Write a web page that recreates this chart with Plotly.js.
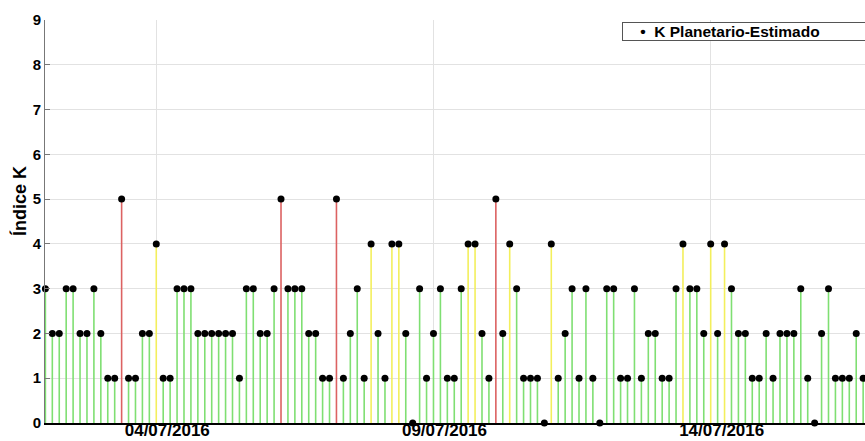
<!DOCTYPE html>
<html>
<head>
<meta charset="utf-8">
<script src="https://cdn.plot.ly/plotly-3.0.1.min.js"></script>
<style>
  html, body { margin: 0; padding: 0; background: #ffffff; }
  #chart { width: 865px; height: 441px; }
</style>
</head>
<body>
<div id="chart"></div>
<script>
// 3-hourly planetary K index estimates, starting 02/07/2016 00:00 UT
const startDate = '2016-07-02T00:00:00';
const stepHours = 3;
const kValues = [
  3,2,2,3,3,2,2,3,2,1,1,5,1,1,2,2,
  4,1,1,3,3,3,2,2,2,2,2,2,1,3,3,2,2,3,5,3,
  3,3,2,2,1,1,5,1,2,3,1,4,2,1,4,4,2,0,3,1,
  2,3,1,1,3,4,4,2,1,5,2,4,3,1,1,1,0,4,1,2,3,
  1,3,1,0,3,3,1,1,3,1,2,2,1,1,3,4,3,3,2,4,
  2,4,3,2,2,1,1,2,1,2,2,2,3,1,0,2,3,1,1,1,2,1
];
const tickDates = ['2016-07-04', '2016-07-09', '2016-07-14'];
const tickLabels = ['04/07/2016', '09/07/2016', '14/07/2016'];
const yTicks = [0,1,2,3,4,5,6,7,8,9];
const seriesName = 'K Planetario-Estimado';
const yTitle = 'Índice K';

function pad(n) { return (n < 10 ? '0' : '') + n; }
function fmt(d) {
  return d.getUTCFullYear() + '-' + pad(d.getUTCMonth() + 1) + '-' + pad(d.getUTCDate()) +
    ' ' + pad(d.getUTCHours()) + ':' + pad(d.getUTCMinutes()) + ':00';
}
const t0 = new Date(startDate + 'Z').getTime();
const times = kValues.map((_, i) => fmt(new Date(t0 + i * stepHours * 3600 * 1000)));

// stems grouped by activity level colour
const groups = [
  { test: v => v <= 3, color: '#7fdf72' },
  { test: v => v === 4, color: '#f3ef5c' },
  { test: v => v >= 5, color: '#dc6262' }
];
const stemTraces = groups.map(g => {
  const xs = [], ys = [];
  kValues.forEach((v, i) => {
    if (g.test(v)) { xs.push(times[i], times[i], null); ys.push(0, v, null); }
  });
  return {
    type: 'scatter', mode: 'lines', x: xs, y: ys,
    line: { color: g.color, width: 1.6 },
    hoverinfo: 'skip', showlegend: false, cliponaxis: false
  };
});

const markerTrace = {
  type: 'scatter', mode: 'markers', name: seriesName,
  x: times, y: kValues,
  marker: { color: '#000000', size: 7 },
  cliponaxis: false, showlegend: false
};

const NB = '\u00a0';
const layout = {
  width: 865, height: 441,
  margin: { l: 45, r: 0, t: 20, b: 18, pad: 0, autoexpand: false },
  paper_bgcolor: '#ffffff', plot_bgcolor: '#ffffff',
  font: { family: 'Liberation Sans, Arial, sans-serif', color: '#000000' },
  showlegend: false,
  annotations: [
    {
      // legend box
      xref: 'paper', yref: 'paper', x: 0.7037, y: 0.995,
      xanchor: 'left', yanchor: 'top',
      text: NB + NB + NB + NB + '•' + NB + NB + seriesName,
      align: 'left', width: 250, showarrow: false,
      bgcolor: '#ffffff', bordercolor: '#555555', borderwidth: 1, borderpad: 0,
      font: { size: 15.5, weight: 'bold', color: '#000000' }
    },
    {
      // y-axis title
      xref: 'paper', yref: 'paper', x: -0.0305, y: 0.551,
      xanchor: 'center', yanchor: 'middle', textangle: -90,
      text: yTitle, showarrow: false,
      font: { size: 18, weight: 'bold', color: '#000000' }
    }
  ],
  xaxis: {
    type: 'date',
    range: ['2016-07-01 23:50:00', '2016-07-16 18:48:00'],
    tickvals: tickDates, ticktext: tickLabels,
    showgrid: true, gridcolor: '#e2e2e2', gridwidth: 1,
    showline: true, linecolor: '#000000', linewidth: 2,
    ticks: '', zeroline: false,
    tickfont: { size: 17, weight: 'bold' },
    ticklabelshift: 11, ticklabelstandoff: -9
  },
  yaxis: {
    range: [0, 9], tickvals: yTicks,
    showgrid: true, gridcolor: '#e2e2e2', gridwidth: 1,
    showline: true, linecolor: '#777777', linewidth: 1,
    ticks: 'inside', ticklen: 5, tickcolor: '#777777',
    zeroline: false,
    tickfont: { size: 15, weight: 'bold' }
  }
};

Plotly.newPlot('chart', [...stemTraces, markerTrace], layout, { displayModeBar: false, staticPlot: true });
</script>
</body>
</html>
